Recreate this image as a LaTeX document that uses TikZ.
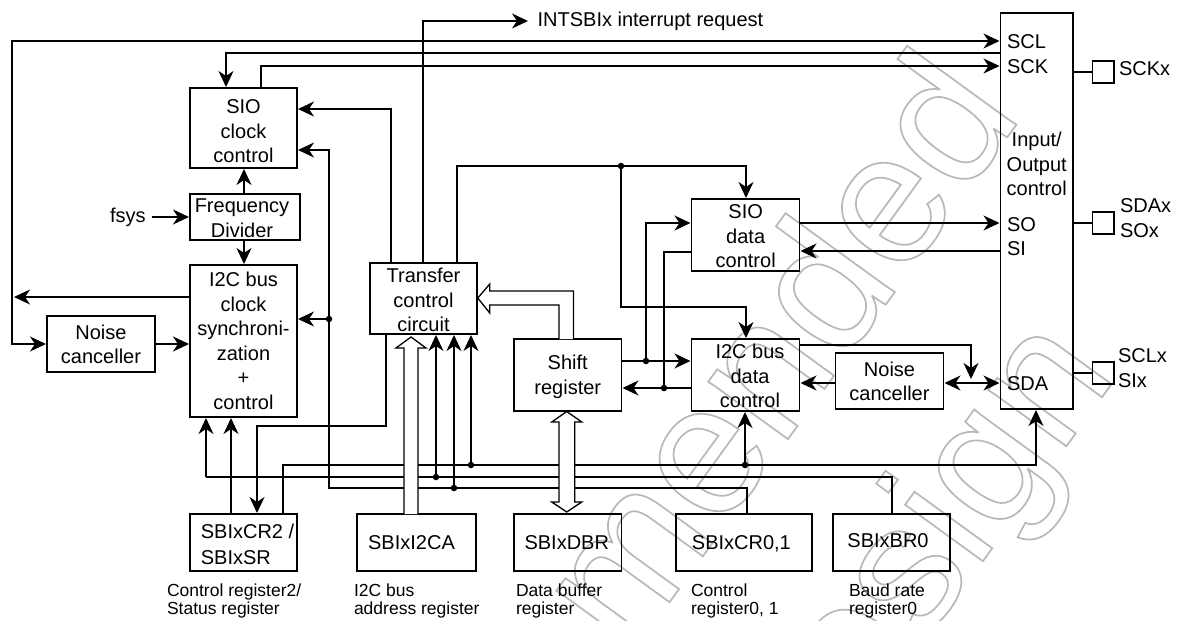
\documentclass[tikz,border=0pt]{standalone}
\usepackage{fontspec}
\setmainfont{Liberation Sans}
\usetikzlibrary{arrows.meta}
\newcommand\tl[4][c]{\makebox[0pt]{\hspace*{\dimexpr#2pt*2\relax}\smash{\raisebox{\dimexpr-#3pt-7.35pt\relax}{\begin{tabular}{@{}#1@{}}#4\end{tabular}}}}}
\newcommand\tb[1]{\begin{tabular}[b]{@{}l@{}}#1\end{tabular}}
\newcommand\wm[1]{\special{pdf:code 1 Tr 1.7 w 0.72 G}#1\special{pdf:code 0 Tr 0 G}}
\tikzset{
  box/.style={draw,rectangle,inner sep=0pt,outer sep=0pt,line width=1.5pt,font=\fontsize{20}{24.5}\selectfont},
  lab/.style={inner sep=0pt,outer sep=0pt,anchor=base west,font=\fontsize{20}{25}\selectfont},
  small/.style={inner sep=0pt,outer sep=0pt,anchor=base west,font=\fontsize{17.5}{17}\selectfont},
  wire/.style={line width=1.5pt},
  arr/.style={wire,-{Stealth[length=16pt,width=15pt,inset=5pt]},shorten >=1pt},
  both/.style={wire,{Stealth[length=16pt,width=15pt,inset=5pt]}-{Stealth[length=16pt,width=15pt,inset=5pt]},shorten >=1pt,shorten <=1pt},
  fat/.style={line width=1.3pt,fill=white,line join=miter},
  dot/.style={circle,fill=black,inner sep=0pt,minimum size=6.5pt},
  wmark/.style={inner sep=0pt,outer sep=0pt}
}
\begin{document}
\begin{tikzpicture}[x=1pt,y=-1pt]
\useasboundingbox (0,0) rectangle (1178,621);
% watermark
\begin{scope}
\clip (0,0) rectangle (1178,621);
\node[wmark,font=\fontsize{186}{186}\selectfont,anchor=base east,rotate=54] (wmA) at (1023.6,114.8) {\wm{mended}};
\node[wmark,font=\fontsize{182}{182}\selectfont,anchor=base east,rotate=54] (wmB) at (1118.5,374.5) {\wm{design}};
\end{scope}
% boxes
\node[box,minimum width=107pt,minimum height=80pt] (sioclk) at (243.5,128) {\tl{0}{3}{SIO\\clock\\control}};
\node[box,minimum width=110pt,minimum height=46pt] (freq) at (245,217) {\tl{-3}{1}{Frequency\\Divider}};
\node[box,minimum width=107pt,minimum height=152pt] (i2cclk) at (243.5,341) {\tl{0}{0}{I2C bus\\clock\\synchroni-\\zation\\+\\control}};
\node[box,minimum width=108pt,minimum height=56pt] (noiseL) at (101,344) {\tl{0}{0.5}{Noise\\canceller}};
\node[box,minimum width=107pt,minimum height=71pt] (transfer) at (423.5,298.5) {\tl{0}{1.5}{Transfer\\control\\circuit}};
\node[box,minimum width=108pt,minimum height=72pt] (siodata) at (745.5,235) {\tl{0.2}{1}{SIO\\data\\control}};
\node[box,minimum width=107.5pt,minimum height=72pt] (shift) at (567.75,375) {\tl{0}{0}{Shift\\register}};
\node[box,minimum width=108pt,minimum height=72pt] (i2cdata) at (745.5,375) {\tl{4.5}{1}{I2C bus\\data\\control}};
\node[box,minimum width=108pt,minimum height=56pt] (noiseR) at (889.5,381) {\tl{0}{0.5}{Noise\\canceller}};
\node[box,minimum width=72.5pt,minimum height=396pt] (io) at (1036.75,211) {\tl{0}{-47}{Input/\\Output\\control}};
\node[box,minimum width=107pt,minimum height=57pt] (cr2) at (243.5,542.5) {\tl[l]{4}{1.5}{SBIxCR2 /\\[1.5pt]SBIxSR}};
\node[box,minimum width=119pt,minimum height=57pt] (i2ca) at (416.5,542.5) {\tl{-5}{-0.5}{SBIxI2CA}};
\node[box,minimum width=107.5pt,minimum height=57pt] (dbr) at (567.75,542.5) {\tl{-1}{-0.5}{SBIxDBR}};
\node[box,minimum width=136pt,minimum height=57pt] (cr0) at (744,542.5) {\tl{-2.6}{-0.5}{SBIxCR0,1}};
\node[box,minimum width=117pt,minimum height=57pt] (br0) at (891.5,542.5) {\tl{-3.5}{-1.8}{SBIxBR0}};
\node[box,minimum width=21.5pt,minimum height=22pt] (pinA) at (1103.25,72) {};
\node[box,minimum width=21.5pt,minimum height=22pt] (pinB) at (1103.25,223) {};
\node[box,minimum width=21.5pt,minimum height=22pt] (pinC) at (1103.25,373) {};
% labels
\node[lab] (tscl) at (1007,48) {SCL};
\node[lab] (tsck) at (1007,73) {SCK};
\node[lab] (tso) at (1007,231) {SO};
\node[lab] (tsi) at (1007,255) {SI};
\node[lab] (tsda) at (1007,390) {SDA};
\node[lab] (tsckx) at (1119,75) {SCKx};
\node[lab] (tsdax) at (1120,237) {\tb{SDAx\\SOx}};
\node[lab] (tsclx) at (1118,387) {\tb{SCLx\\SIx}};
\node[lab] (fsys) at (110,222) {fsys};
\node[lab] (tint) at (537.6,26) {INTSBIx interrupt request};
\node[small] (c1) at (167,614) {\tb{Control register2/\\Status register}};
\node[small] (c2) at (354,614) {\tb{I2C bus\\address register}};
\node[small] (c3) at (516,614) {\tb{Data buffer\\register}};
\node[small] (c4) at (691,614) {\tb{Control\\register0, 1}};
\node[small] (c5) at (849,614) {\tb{Baud rate\\register0}};
% junction coordinates
\coordinate (intEnd) at (529,21);
\coordinate (tI) at (423,21);
\coordinate (railT) at (12,41);
\coordinate (railM) at (13,297);
\coordinate (sckA) at (226,53);
\coordinate (sckB) at (261,66);
\coordinate (tA) at (391,109);
\coordinate (tB1) at (386,426);
\coordinate (tB2) at (257,426);
\coordinate (tC) at (457,166);
\coordinate (tCr) at (746,166);
\coordinate (tD) at (746,307);
\coordinate (cL) at (329,488);
\coordinate (cUp) at (329,150);
\coordinate (cR) at (747,488);
\node[dot] (dC1) at (329,319) {};
\node[dot] (dC2) at (454,488) {};
\coordinate (aL) at (283,465);
\coordinate (aR) at (1036,465);
\node[dot] (dA1) at (471,465) {};
\node[dot] (dA2) at (745,465) {};
\coordinate (bL) at (206,477);
\coordinate (bR) at (892,477);
\node[dot] (dB1) at (436,477) {};
\coordinate (pCr) at (231,465);
\coordinate (fv) at (244,200);
\node[dot] (dT) at (621,166) {};
\node[dot] (dS1) at (646,361) {};
\node[dot] (dS2) at (664,388) {};
\coordinate (yS1) at (691.5,223);
\coordinate (yS2) at (691.5,252);
\coordinate (yI) at (799.5,251);
\coordinate (yTop) at (971,345);
\coordinate (yTopE) at (971,380);
\coordinate (yN) at (946,383);
% connectors
\draw[arr] (tI |- transfer.north) |- (intEnd);
\draw[both] (noiseL.west) -| (railT) -- (io.west |- railT);
\draw[arr] (i2cclk.west |- railM) -- (railM);
\draw[arr] (io.west |- sckA) -| (sckA |- sioclk.north);
\draw[arr] (sckB |- sioclk.north) |- (io.west |- sckB);
\draw[arr] (tA |- transfer.north) |- (sioclk.east |- tA);
\draw[arr] (cr0.north -| cR) |- (cL) |- (sioclk.east |- cUp);
\draw[arr] (dC1) -- (i2cclk.east |- dC1);
\draw[arr] (dC2) -- (dC2 |- transfer.south);
\draw[arr] (cr2.north -| aL) |- (aR) -- (aR |- io.south);
\draw[arr] (dA1) -- (dA1 |- transfer.south);
\draw[arr] (dA2) -- (dA2 |- i2cdata.south);
\draw[wire] (br0.north -| bR) |- (bL);
\draw[arr] (bL) -- (bL |- i2cclk.south);
\draw[arr] (dB1) -- (dB1 |- transfer.south);
\draw[arr] (cr2.north -| pCr) -- (pCr |- i2cclk.south);
\draw[arr] (tB1 |- transfer.south) |- (tB2) -- (tB2 |- cr2.north);
\draw[arr] (fv |- freq.north) -- (fv |- sioclk.south);
\draw[arr] (fv |- freq.south) -- (fv |- i2cclk.north);
\draw[arr,shorten <=6pt] (fsys.east |- freq.west) -- (freq.west);
\draw[arr] (noiseL.east) -- (i2cclk.west |- noiseL.east);
\draw[arr] (siodata.east |- yS1) -- (io.west |- yS1);
\draw[arr] (io.west |- yI) -- (yI);
\draw[arr] (tC |- transfer.north) |- (tCr) -- (tCr |- siodata.north);
\draw[arr] (dT) |- (tD) -- (tD |- i2cdata.north);
\draw[arr] (shift.east |- dS1) -- (i2cdata.west |- dS1);
\draw[arr] (dS1) |- (yS1);
\draw[arr] (i2cdata.west |- dS2) -- (shift.east |- dS2);
\draw[wire] (dS2) |- (yS2);
\draw[arr] (i2cdata.east |- yTop) -| (yTopE);
\draw[both] (noiseR.east |- yN) -- (io.west |- yN);
\draw[arr] (noiseR.west |- yN) -- (i2cdata.east |- yN);
\draw[wire] (io.east |- pinA.west) -- (pinA.west);
\draw[wire] (io.east |- pinB.west) -- (pinB.west);
\draw[wire] (io.east |- pinC.west) -- (pinC.west);
% hollow arrows
\begin{scope}[shift={(i2ca.north)}]
\draw[fat] (-12.5,0) -- (-12.5,-166) -- (-20.5,-166) -- (-5.5,-177) -- (9.5,-166) -- (1.5,-166) -- (1.5,0);
\end{scope}
\begin{scope}[shift={(shift.north)}]
\draw[fat] (-8.75,0) -- (-8.75,-34) -- (-78,-34) -- (-78,-26) -- (-90,-41) -- (-78,-55) -- (-78,-48) -- (5.75,-48) -- (5.75,0);
\end{scope}
\begin{scope}[shift={(shift.south)}]
\draw[fat] (-1,0.5) -- (14,11) -- (7,11) -- (7,91) -- (14,91) -- (-1,101) -- (-16,91) -- (-8.75,91) -- (-8.75,11) -- (-16,11) -- cycle;
\end{scope}
\end{tikzpicture}
\end{document}
